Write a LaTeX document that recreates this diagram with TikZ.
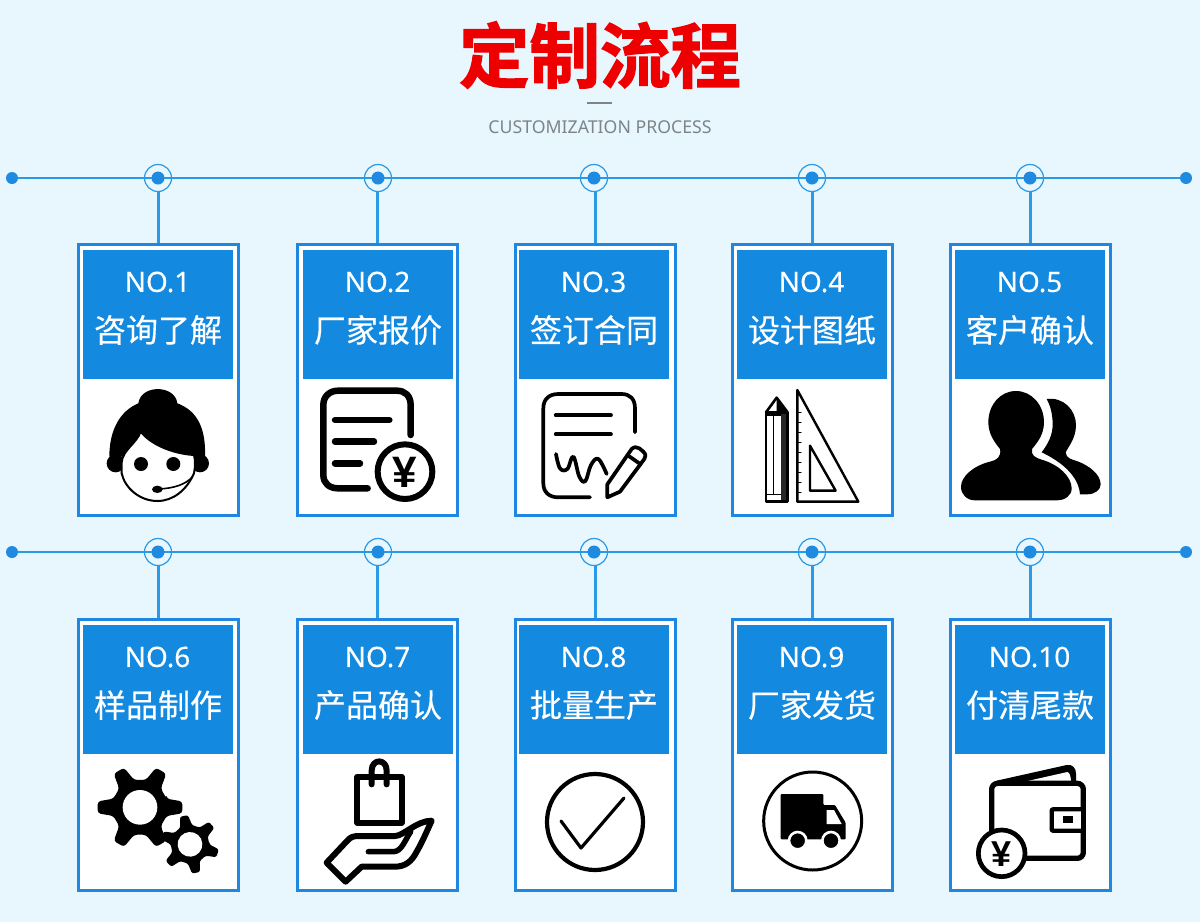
\documentclass[tikz,border=0pt]{standalone}
\usepackage{fontspec}
\setmainfont[FakeBold=0.25]{Noto Sans}
\newfontfamily\plainlat{Noto Sans}
\newfontfamily\cjk[FakeBold=0.35]{Noto Sans CJK SC}
\newfontfamily\cjkbig[FakeBold=1.9]{Noto Sans CJK SC Bold}
\newfontfamily\yenfont{Liberation Sans Bold}
\definecolor{bgc}{HTML}{E8F6FE}
\definecolor{linec}{HTML}{2B9AE6}
\definecolor{dotc}{HTML}{1F8BE0}
\definecolor{framec}{HTML}{1F86E2}
\definecolor{headc}{HTML}{1389E0}
\definecolor{titlec}{HTML}{EE0000}
\definecolor{subc}{HTML}{7C8488}
\tikzset{
  cardbox/.style={draw=framec,line width=3pt,fill=white,minimum width=160pt,minimum height=271pt,inner sep=0pt},
  headbox/.style={fill=headc,draw=none,minimum width=150pt,minimum height=129pt,inner sep=0pt},
  notext/.style={text=white,inner sep=0pt,font=\fontsize{28}{30}\selectfont},
  nametext/.style={text=white,inner sep=0pt,font=\cjk\fontsize{32}{34}\selectfont},
  ringnode/.style={circle,draw=linec,line width=1.2pt,minimum size=27pt,inner sep=0pt},
  dotnode/.style={circle,fill=dotc,minimum size=13pt,inner sep=0pt},
  enddot/.style={circle,fill=dotc,minimum size=12pt,inner sep=0pt},
  mainline/.style={draw=linec,line width=2.5pt},
  icon/.style={x=0.33333pt,y=-0.33333pt,line cap=round,line join=round},
  yen/.style={inner sep=0pt,text=black,font=\yenfont\fontsize{44}{46}\selectfont}
}
\newcommand{\gearshape}[6]{% cx cy R r hole corner
  \fill[shift={(#1,#2)},rounded corners=#6pt]
    (-18:#4) \foreach \ga in {0,60,...,300}{ -- (\ga-18:#4) -- (\ga-8:#3) -- (\ga+8:#3) -- (\ga+18:#4) } -- cycle;
  \fill[white,shift={(#1,#2)}] (0,0) circle (#5);
}
\newcommand{\card}[7]{% id cx cy hx hy no name
  \node[cardbox] (b#1) at (#2,#3) {};
  \node[headbox] (h#1) at (#4,#5) {};
  \node[notext] (no#1) at (#4-0.5,#5-32.5) {#6};
  \node[nametext] (na#1) at (#4,#5+15.5) {#7};
}
\begin{document}
\begin{tikzpicture}[x=1pt,y=-1pt]
\useasboundingbox (0,0) rectangle (1200,922);
\fill[bgc] (0,0) rectangle (1200,922);
% title
\node[text=titlec,inner sep=0pt,font=\cjkbig\fontsize{70.5}{72}\selectfont] (title) at (600,55) {定制流程};
\coordinate (dl) at (587,103); \coordinate (dr) at (612,103);
\draw[subc,line width=1.4pt] (dl) -- (dr);
\node[text=subc,inner sep=0pt,font=\plainlat\fontsize{17.7}{20}\selectfont] (sub) at (600,127) {CUSTOMIZATION PROCESS};
% rows
\foreach \ry/\rn in {178/1,552/2}{
  \node[enddot] (l\rn) at (12,\ry) {};
  \node[enddot] (r\rn) at (1186,\ry) {};
  \draw[mainline] (l\rn) -- (r\rn);
  \foreach \cx/\i in {158/1,378/2,594/3,812/4,1030/5}{
    \node[ringnode] (ring\rn\i) at (\cx,\ry) {};
    \node[dotnode] (dot\rn\i) at (\cx,\ry) {};
  }
}
% cards
\card{1}{158.5}{380}{158}{314.5}{NO.1}{咨询了解}
\card{2}{377.5}{380}{378}{314.5}{NO.2}{厂家报价}
\card{3}{595.5}{380}{594}{314.5}{NO.3}{签订合同}
\card{4}{812.5}{380}{812}{314.5}{NO.4}{设计图纸}
\card{5}{1030.5}{380}{1030}{314.5}{NO.5}{客户确认}
\card{6}{158.5}{755}{158}{689.5}{NO.6}{样品制作}
\card{7}{377.5}{755}{378}{689.5}{NO.7}{产品确认}
\card{8}{595.5}{755}{594}{689.5}{NO.8}{批量生产}
\card{9}{812.5}{755}{812}{689.5}{NO.9}{厂家发货}
\card{10}{1030.5}{755}{1030}{689.5}{NO.10}{付清尾款}
% connectors
\draw[mainline] (b1.north |- ring11.south) -- (b1.north);
\draw[mainline] (b2.north |- ring12.south) -- (b2.north);
\draw[mainline] (b3.north |- ring13.south) -- (b3.north);
\draw[mainline] (b4.north |- ring14.south) -- (b4.north);
\draw[mainline] (b5.north |- ring15.south) -- (b5.north);
\draw[mainline] (b6.north |- ring21.south) -- (b6.north);
\draw[mainline] (b7.north |- ring22.south) -- (b7.north);
\draw[mainline] (b8.north |- ring23.south) -- (b8.north);
\draw[mainline] (b9.north |- ring24.south) -- (b9.north);
\draw[mainline] (b10.north |- ring25.south) -- (b10.north);
% ICONS row 1, left pair
\begin{scope}[shift={(70,375)},icon]
  % icon 1 woman
  \fill (118,245) .. controls (118,165) and (150,108) .. (205,85)
     .. controls (212,28) and (315,28) .. (322,85)
     .. controls (385,108) and (408,165) .. (405,245) -- cycle;
  \fill (137,265) circle (27);
  \fill (390,265) circle (27);
  \filldraw[fill=white,line width=2pt] (155,262)
     .. controls (158,225) and (200,205) .. (212,170)
     .. controls (240,205) and (300,235) .. (372,240)
     .. controls (376,255) and (376,275) .. (372,295)
     .. controls (350,345) and (310,378) .. (262,378)
     .. controls (210,378) and (165,340) .. (155,295) -- cycle;
  \fill (213,267) circle (21);
  \fill (310,267) circle (21);
  \draw[line width=1.6pt] (368,305) .. controls (345,330) and (310,340) .. (265,342);
  \fill (262,343) ellipse (16 and 11);
  % icon 2 doc with coin
  \draw[line width=6.5pt] (1022,180) -- (1022,90) .. controls (1022,62) and (1005,47) .. (980,47)
     -- (805,47) .. controls (778,47) and (760,65) .. (760,90) -- (760,300)
     .. controls (760,325) and (778,340) .. (805,340) -- (893,340);
  \draw[line width=6.5pt] (795,135) -- (958,135) (795,200) -- (912,200) (795,265) -- (870,265);
  \draw[line width=6pt,fill=white] (1005,290) circle (82);
  \node[yen] (yen1) at (1005,292) {¥};
\end{scope}
\begin{scope}[shift={(510,375)},icon]
  % icon 3 contract
  \draw[line width=3.7pt] (375,172) -- (375,100) .. controls (375,72) and (360,57) .. (335,57)
     -- (145,57) .. controls (118,57) and (100,72) .. (100,100) -- (100,325)
     .. controls (100,352) and (118,367) .. (145,367) -- (240,367);
  \draw[line width=3.7pt] (137,121) -- (303,121) (137,178) -- (303,178);
  \draw[line width=3.7pt] plot[smooth,tension=.65] coordinates {(138,237) (150,280) (172,282) (190,245) (208,305) (226,318) (243,270) (265,252) (290,297)};
  \draw[line width=3.7pt] (292,367) -- (292,328) -- (365,222) .. controls (372,215) and (380,215) .. (388,220) -- (400,230) .. controls (408,238) and (408,245) .. (403,252) -- (330,350) -- cycle;
  \draw[line width=3.7pt] (352,240) -- (392,268);
  % icon 4 pencil and set square
  \fill[black!85] (812,112) rectangle (833,380);
  \draw[line width=2.6pt] (768,112) rectangle (833,380);
  \fill (800,68) -- (833,112) -- (800,112) -- cycle;
  \draw[line width=2.6pt] (768,112) -- (800,68) -- (833,112);
  \draw[line width=1.2pt] (768,120) -- (812,120) (790,120) -- (790,358) (768,358) -- (812,358);
  \draw[line width=2.4pt] (862,45) -- (862,380) -- (1045,380) -- cycle;
  \draw[line width=2.4pt] (900,212) -- (900,347) -- (977,347) -- cycle;
  \foreach \ty in {113,143,...,353}{ \draw[line width=1.1pt] (862,\ty) -- (873,\ty); }
\end{scope}
\begin{scope}[shift={(940,375)},icon]
  % icon 5 people
  \fill (320,72) .. controls (370,65) and (408,105) .. (408,150)
     .. controls (408,190) and (385,215) .. (377,232)
     .. controls (378,250) and (395,253) .. (410,258)
     .. controls (450,272) and (482,300) .. (482,328)
     .. controls (482,345) and (465,358) .. (440,358) -- (420,358)
     .. controls (418,325) and (395,275) .. (305,232)
     .. controls (325,205) and (338,180) .. (338,148)
     .. controls (338,115) and (330,90) .. (320,72) -- cycle;
  \fill (228,48) .. controls (275,48) and (312,90) .. (312,142)
     .. controls (312,180) and (290,205) .. (276,222)
     .. controls (272,240) and (285,248) .. (305,254)
     .. controls (355,268) and (395,305) .. (395,340)
     .. controls (395,362) and (375,376) .. (350,376) -- (105,376)
     .. controls (80,376) and (63,358) .. (63,335)
     .. controls (63,305) and (100,272) .. (150,260)
     .. controls (170,256) and (185,245) .. (180,222)
     .. controls (162,200) and (145,175) .. (145,142)
     .. controls (145,90) and (180,48) .. (228,48) -- cycle;
\end{scope}
% ICONS row 2
\begin{scope}[shift={(70,750)},icon]
  \gearshape{210}{172}{128}{84}{52}{3}
  \begin{scope}[shift={(360,283)},rotate=-18]
    \gearshape{0}{0}{88}{58}{37}{2.2}
  \end{scope}
  % icon 7 bag and hand
  \draw[line width=6pt] (862,80) rectangle (995,218);
  \draw[line width=6pt] (905,103) -- (905,62) .. controls (905,25) and (950,25) .. (950,62) -- (950,103);
  \draw[line width=6pt] (770,338) -- (832,272) .. controls (840,262) and (850,258) .. (865,258)
     -- (975,258) .. controls (1000,258) and (1040,212) .. (1085,212)
     .. controls (1070,245) and (1055,280) .. (1040,305)
     .. controls (1025,335) and (1005,350) .. (975,350) -- (875,350) -- (827,395) -- cycle;
  \draw[line width=5.5pt] (895,305) -- (970,305) .. controls (995,305) and (1005,270) .. (1022,245);
\end{scope}
% icon 8 check
\coordinate (cc8) at (595,822);
\draw[line width=4.2pt] (cc8) circle (48);
\draw[line width=3.2pt,line cap=round,line join=round] (561,821) -- (581,848) -- (624,798);
\begin{scope}[shift={(730,750)},icon]
  % icon 9 truck
  \draw[line width=3pt] (248,213) circle (147);
  \fill[rounded corners=1pt] (152,132) -- (280,132) -- (280,165) -- (315,165) -- (347,218) -- (347,268) -- (152,268) -- cycle;
  \fill[white] (290,180) -- (312,180) -- (335,222) -- (290,222) -- cycle;
  \filldraw[draw=white,line width=2.6pt] (203,272) circle (26);
  \filldraw[draw=white,line width=2.6pt] (303,272) circle (26);
  % icon 10 wallet
  \fill (800,92) -- (1010,45) .. controls (1028,42) and (1038,55) .. (1038,70) -- (1038,100) -- (800,100) -- cycle;
  \fill[white] (888,94) -- (1012,66) .. controls (1020,68) and (1022,80) .. (1023,94) -- cycle;
  \draw[line width=5.3pt,fill=white,rounded corners=6pt] (785,100) rectangle (1060,325);
  \draw[line width=4.3pt,fill=white,rounded corners=1pt] (965,178) rectangle (1060,242);
  \fill (1000,198) rectangle (1028,220);
  \draw[line width=4.7pt,fill=white] (815,310) circle (70);
  \node[yen,font=\yenfont\fontsize{36}{38}\selectfont] (yen2) at (815,313) {¥};
\end{scope}
\end{tikzpicture}
\end{document}
